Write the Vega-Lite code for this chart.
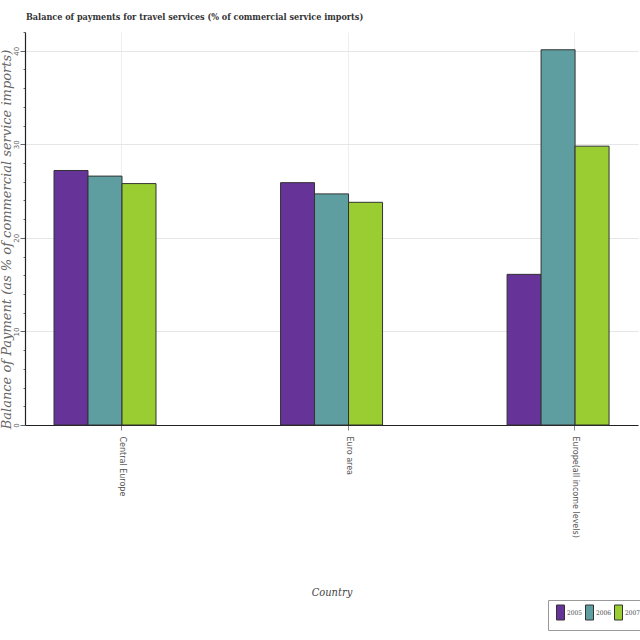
{
  "$schema": "https://vega.github.io/schema/vega-lite/v6.json",
  "autosize": "none",
  "padding": {"left": 25, "top": 32, "right": 2, "bottom": 215},
  "width": 613,
  "height": 393,
  "background": "white",
  "title": {
    "text": "Balance of payments for travel services (% of commercial service imports)",
    "anchor": "start",
    "frame": "group",
    "font": "DejaVu Serif Condensed",
    "fontWeight": "bold",
    "fontSize": 9,
    "color": "#333",
    "offset": 10,
    "dx": 1
  },
  "data": {
    "values": [
      {"Country": "Central Europe", "Year": "2005", "Value": 27.2},
      {"Country": "Central Europe", "Year": "2006", "Value": 26.6},
      {"Country": "Central Europe", "Year": "2007", "Value": 25.8},
      {"Country": "Euro area", "Year": "2005", "Value": 25.9},
      {"Country": "Euro area", "Year": "2006", "Value": 24.7},
      {"Country": "Euro area", "Year": "2007", "Value": 23.8},
      {"Country": "Europe(all income levels)", "Year": "2005", "Value": 16.1},
      {"Country": "Europe(all income levels)", "Year": "2006", "Value": 40.1},
      {"Country": "Europe(all income levels)", "Year": "2007", "Value": 29.8}
    ]
  },
  "mark": {"type": "bar", "stroke": "#333", "strokeWidth": 1},
  "encoding": {
    "x": {
      "field": "Country",
      "type": "nominal",
      "scale": {"paddingInner": 0.294, "paddingOuter": 0},
      "axis": {
        "title": "Country",
        "titleFont": "DejaVu Serif Condensed",
        "titleFontStyle": "italic",
        "titleFontWeight": "normal",
        "titleFontSize": 11,
        "titleColor": "#444",
        "titleY": 167,
        "titleBaseline": "middle",
        "bandPosition": 0.606,
        "labelOffset": 17,
        "labelAngle": 90,
        "labelAlign": "left",
        "labelBaseline": "middle",
        "labelFont": "DejaVu Sans",
        "labelFontSize": 8,
        "labelColor": "#555",
        "labelPadding": 6,
        "tickSize": 5,
        "tickColor": "#888",
        "domainColor": "#222",
        "domainWidth": 1.2,
        "grid": true,
        "gridColor": "#eee"
      }
    },
    "xOffset": {"field": "Year", "type": "nominal", "scale": {"range": [29, 131], "paddingInner": 0, "paddingOuter": 0}},
    "y": {
      "field": "Value",
      "type": "quantitative",
      "scale": {"domain": [0, 42], "nice": false},
      "axis": {
        "title": "Balance of Payment (as % of commercial service imports)",
        "titleFont": "DejaVu Serif",
        "titleFontStyle": "italic",
        "titleFontWeight": "normal",
        "titleFontSize": 13,
        "titleColor": "#666",
        "titleX": -19,
        "titleY": 207,
        "titleBaseline": "middle",
        "values": [0, 2, 4, 6, 8, 10, 12, 14, 16, 18, 20, 22, 24, 26, 28, 30, 32, 34, 36, 38, 40, 42],
        "labelExpr": "datum.value % 10 === 0 ? datum.label : ''",
        "labelAngle": -90,
        "labelAlign": "center",
        "labelBaseline": "bottom",
        "labelFont": "DejaVu Sans",
        "labelFontSize": 7,
        "labelColor": "#666",
        "labelPadding": 1,
        "tickSize": {"condition": {"test": "datum.value % 10 === 0", "value": 5}, "value": 2},
        "tickColor": "#666",
        "domainColor": "#222",
        "domainWidth": 1.2,
        "grid": true,
        "gridColor": "#e6e6e6",
        "gridOpacity": {"condition": {"test": "datum.value % 10 === 0", "value": 1}, "value": 0}
      }
    },
    "fill": {
      "field": "Year",
      "type": "nominal",
      "scale": {"domain": ["2005", "2006", "2007"], "range": ["#663399", "#5F9EA0", "#9ACD32"]},
      "legend": {
        "title": null,
        "orient": "none",
        "legendX": 523,
        "legendY": 568,
        "direction": "horizontal",
        "strokeColor": "#999",
        "padding": 8,
        "symbolType": "M-1,-1.875H1V1.875H-1Z",
        "symbolSize": 64,
        "symbolStrokeColor": "#333",
        "symbolStrokeWidth": 1,
        "symbolOpacity": 1,
        "labelFont": "DejaVu Serif Condensed",
        "labelFontSize": 6.5,
        "labelFontWeight": "normal",
        "labelColor": "#444",
        "labelOffset": 2,
        "columnPadding": 1
      }
    }
  },
  "config": {"view": {"stroke": null}}
}
